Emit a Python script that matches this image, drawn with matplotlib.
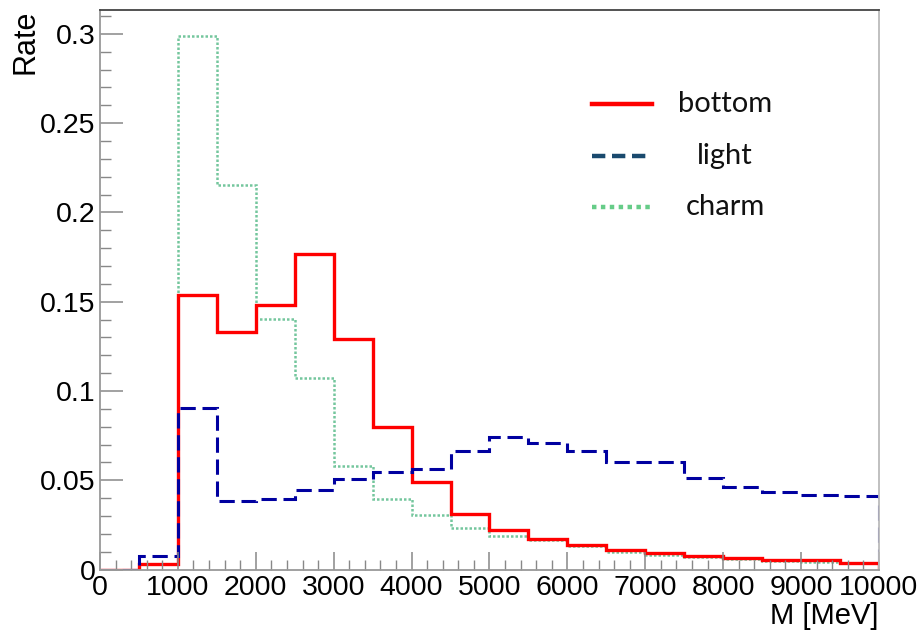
import numpy as np
import matplotlib
matplotlib.use('Agg')
import matplotlib.pyplot as plt
from matplotlib.lines import Line2D
from matplotlib.ticker import MultipleLocator

# --- data ---
edges = np.arange(0, 10001, 500)
bottom = [0.0, 0.003, 0.154, 0.133, 0.148, 0.177, 0.129, 0.080, 0.049, 0.031,
          0.022, 0.017, 0.0137, 0.011, 0.0094, 0.0075, 0.0062, 0.0052, 0.0051, 0.0039]
light = [0.0, 0.0075, 0.0906, 0.0382, 0.0395, 0.0444, 0.0509, 0.0545, 0.0565, 0.0666,
         0.0742, 0.0708, 0.0662, 0.0600, 0.0600, 0.0511, 0.0461, 0.0433, 0.0418, 0.0412]
charm = [0.0, 0.003, 0.299, 0.2154, 0.1404, 0.107, 0.0578, 0.0397, 0.0307, 0.0233,
         0.0186, 0.0164, 0.013, 0.0097, 0.0081, 0.0068, 0.0057, 0.0049, 0.0044, 0.0038]
labels = ['bottom', 'light', 'charm']

root_font = ['Liberation Sans Narrow', 'Liberation Sans', 'DejaVu Sans']
leg_font = ['Lato', 'DejaVu Sans']

fig = plt.figure(figsize=(9.2, 6.41), dpi=100)
ax = fig.add_axes([0.1087, 0.1115, 0.8467, 0.8729])

# draw order: charm under, light on top
ax.stairs(charm, edges, color='#74c69d', lw=1.8, ls=(0, (1, 0.8)))
ax.stairs(bottom, edges, color='#ff0000', lw=2.4)
ax.stairs(light, edges, color='#0000a0', lw=2.2, ls=(0, (5, 2.2)))

ax.set_xlim(0, 10000)
ax.set_ylim(0, 0.3134)

ax.xaxis.set_major_locator(MultipleLocator(1000))
ax.xaxis.set_minor_locator(MultipleLocator(200))
ax.yaxis.set_major_locator(MultipleLocator(0.05))
ax.yaxis.set_minor_locator(MultipleLocator(0.01))
ax.set_yticks([0, 0.05, 0.1, 0.15, 0.2, 0.25, 0.3])
ax.set_yticklabels(['0', '0.05', '0.1', '0.15', '0.2', '0.25', '0.3'])
ax.set_xticks(np.arange(0, 10001, 1000))
ax.set_xticklabels([str(v) for v in range(0, 10001, 1000)])

ax.tick_params(axis='y', which='major', direction='in', length=16.5, width=1.1,
               color='#888888', pad=3)
ax.tick_params(axis='y', which='minor', direction='in', length=8, width=1.0,
               color='#888888')
ax.tick_params(axis='x', which='major', direction='in', length=13, width=1.1,
               color='#888888', pad=4)
ax.tick_params(axis='x', which='minor', direction='in', length=7, width=1.0,
               color='#888888')
for lab in ax.get_xticklabels() + ax.get_yticklabels():
    lab.set_family(root_font)
    lab.set_fontsize(20.5)

ax.spines['top'].set_color('#444444')
ax.spines['right'].set_color('#bbbbbb')
ax.spines['left'].set_color('#999999')
ax.spines['bottom'].set_color('#999999')
for s in ax.spines.values():
    s.set_linewidth(1.3)

ax.text(-0.115, 1.0, 'Rate', transform=ax.transAxes, rotation=90,
        ha='left', va='top', family=root_font, fontsize=22)
ax.set_xlabel('M [MeV]', family=root_font, fontsize=21, loc='right', labelpad=1)

# legend (drawn by hand, like the pasted-in box of the original)
leg_colors = ['#ff0000', '#1a4a6e', '#66cc88']
leg_styles = ['-', (0, (3, 1.5)), (0, (1, 1))]
leg_y = [0.838, 0.757, 0.677]
for lab, c, s, y in zip(labels, leg_colors, leg_styles, leg_y):
    fig.add_artist(Line2D([0.643, 0.709], [y, y], color=c, lw=3.2, ls=s,
                          transform=fig.transFigure))
    fig.text(0.788, y, lab, ha='center', va='center', family=leg_font,
             fontsize=21, color='#111111')

fig.savefig('out.png', dpi=100)
